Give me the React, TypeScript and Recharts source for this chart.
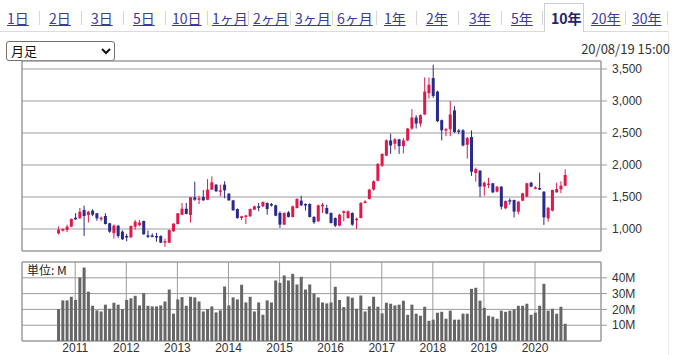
import React from 'react';
import { ComposedChart, Bar, XAxis, YAxis, CartesianGrid, ReferenceArea } from 'recharts';

// monthly candles, Sep 2010 .. Aug 2020
const openPrices = [
  930, 975, 985, 1036, 1176, 1167, 1297, 1219, 1286, 1245,
  1160, 1203, 1089, 933, 1052, 958, 890, 870, 1036, 1060,
  1125, 900, 900, 890, 891, 790, 786, 963, 1078, 1222,
  1317, 1219, 1495, 1458, 1500, 1458, 1615, 1693, 1589, 1693,
  1552, 1448, 1312, 1172, 1198, 1198, 1302, 1354, 1354, 1406,
  1390, 1370, 1250, 1068, 1260, 1188, 1328, 1443, 1391, 1391,
  1188, 1120, 1354, 1328, 1250, 1172, 1052, 1250, 1172, 1250,
  1140, 1172, 1406, 1469, 1615, 1753, 1990, 2147, 2384, 2332,
  2400, 2295, 2384, 2568, 2742, 2647, 2789, 3121, 3358, 3147,
  2700, 2540, 2558, 2853, 2540, 2542, 2316, 2437, 1874, 1911,
  1663, 1690, 1714, 1583, 1661, 1323, 1450, 1453, 1271, 1443,
  1505, 1724, 1640, 1640, 1583, 1167, 1286, 1573, 1620, 1677,
];
const highPrices = [
  1040, 1010, 1066, 1165, 1248, 1328, 1364, 1280, 1310, 1250,
  1195, 1245, 1095, 1070, 1060, 980, 925, 1055, 1140, 1140,
  1130, 975, 930, 940, 900, 850, 990, 1090, 1250, 1406,
  1406, 1500, 1739, 1520, 1610, 1780, 1823, 1700, 1693, 1745,
  1560, 1455, 1320, 1208, 1215, 1320, 1365, 1406, 1430, 1415,
  1406, 1380, 1276, 1260, 1280, 1365, 1480, 1520, 1400, 1400,
  1200, 1380, 1406, 1380, 1260, 1180, 1240, 1290, 1290, 1260,
  1180, 1420, 1450, 1630, 1760, 2030, 2180, 2400, 2490, 2420,
  2410, 2420, 2580, 2874, 2779, 2790, 3368, 3368, 3568, 3160,
  2710, 2580, 3000, 2920, 2560, 2560, 2440, 2540, 1960, 1920,
  1740, 1800, 1720, 1670, 1670, 1445, 1480, 1460, 1435, 1565,
  1722, 1735, 1670, 1880, 1590, 1340, 1615, 1724, 1745, 1932,
];
const lowPrices = [
  915, 960, 950, 1030, 1145, 1160, 890, 1100, 1200, 1130,
  1120, 1070, 940, 850, 860, 830, 807, 860, 990, 1040,
  910, 860, 870, 800, 780, 723, 780, 960, 1070, 1215,
  1230, 1100, 1440, 1390, 1440, 1450, 1610, 1580, 1510, 1480,
  1440, 1285, 1160, 1140, 1078, 1190, 1295, 1276, 1340, 1224,
  1350, 1200, 1016, 1060, 1180, 1180, 1320, 1360, 1290, 1180,
  1080, 1110, 1250, 1230, 1085, 1030, 1040, 1120, 1160, 1050,
  1000, 1165, 1400, 1460, 1600, 1745, 1970, 2140, 2174, 2240,
  2174, 2180, 2370, 2550, 2570, 2600, 2780, 3040, 3050, 2670,
  2384, 2450, 2450, 2500, 2480, 2290, 2100, 1830, 1740, 1500,
  1520, 1640, 1560, 1570, 1305, 1310, 1380, 1180, 1230, 1435,
  1495, 1650, 1620, 1610, 1063, 1115, 1275, 1565, 1560, 1670,
];
const closePrices = [
  990, 1000, 1036, 1156, 1150, 1270, 1203, 1270, 1224, 1167,
  1176, 1078, 958, 1052, 891, 839, 870, 1047, 1114, 1100,
  917, 890, 895, 870, 786, 810, 984, 1083, 1245, 1317,
  1235, 1495, 1458, 1480, 1448, 1615, 1729, 1589, 1604, 1604,
  1448, 1292, 1172, 1198, 1212, 1312, 1354, 1340, 1422, 1312,
  1370, 1208, 1068, 1250, 1188, 1354, 1469, 1370, 1380, 1188,
  1104, 1370, 1380, 1240, 1094, 1052, 1224, 1276, 1276, 1068,
  1160, 1406, 1430, 1615, 1745, 2016, 2174, 2384, 2305, 2400,
  2295, 2384, 2568, 2742, 2647, 2779, 3147, 3253, 3079, 2684,
  2542, 2560, 2789, 2516, 2520, 2305, 2421, 1895, 1937, 1663,
  1724, 1710, 1573, 1661, 1349, 1437, 1430, 1271, 1427, 1557,
  1714, 1661, 1650, 1620, 1182, 1333, 1609, 1625, 1677, 1844,
];
// volume in millions
const volumes = [
  20.2, 25.7, 25.7, 28, 26, 40.2, 46.5, 31.2, 22.3, 19.4,
  18.7, 23, 20.4, 24.2, 23, 20.2, 26, 27, 28.6, 22.5,
  30.3, 22.3, 21.9, 21.9, 22.5, 25, 32.6, 17.3, 26.3, 27.8,
  22.3, 28, 27.6, 25, 18.7, 20.2, 21.9, 18.1, 19.4, 34.5,
  22.5, 27.6, 26.3, 35.6, 24.4, 28, 18.7, 24.4, 16.6, 25.7,
  24.4, 38.3, 36.8, 41.5, 38.3, 42.5, 35.8, 40.6, 32.6, 35.8,
  30.1, 27.6, 24.4, 23.8, 24.4, 34.3, 26, 21.5, 28.2, 27.4,
  20.4, 28.8, 18.7, 21.9, 28, 21.7, 17.5, 24.2, 23.6, 22.5,
  23, 25.5, 16.6, 23, 17.3, 16, 21.7, 12.8, 13.5, 17.9,
  18.5, 14.1, 19.2, 13.5, 13.5, 17.3, 17.3, 33, 33.7, 25.5,
  21, 16, 15.4, 14.1, 19.2, 18.5, 19.2, 20, 22.3, 22.3,
  23.6, 16.6, 17.9, 22.3, 36.2, 19.2, 20.4, 17.3, 21.7, 10.9,
];

const yearLabels = ['2011', '2012', '2013', '2014', '2015', '2016', '2017', '2018', '2019', '2020'];
const priceTicks = [1000, 1500, 2000, 2500, 3000, 3500];
const volumeTicks = [10, 20, 30, 40];

const tabLabels = ['1日', '2日', '3日', '5日', '10日', '1ヶ月', '2ヶ月', '3ヶ月', '6ヶ月', '1年', '2年', '3年', '5年', '10年', '20年', '30年'];
const activeTab = '10年';

// first candle is Sep 2010, so January of each year sits at index 12*k + 4
const yearTicks = yearLabels.map((_, k) => 4 + 12 * k);

const data = openPrices.map((o, i) => ({
  i,
  open: o,
  high: highPrices[i],
  low: lowPrices[i],
  close: closePrices[i],
  range: [lowPrices[i], highPrices[i]],
  volume: volumes[i],
}));

const RED = '#e2174b';
const BLUE = '#2a2a8c';
const GRID = '#9c9c9c';
const FONT = '"Noto Sans CJK JP", "Noto Sans", sans-serif';
const TICK_FONT = '"Liberation Sans", Arial, sans-serif';
const X_DOMAIN: [number, number] = [-8.5, 127.5];
const PRICE_DOMAIN: [number, number] = [656, 3625];
const VOL_DOMAIN: [number, number] = [0, 50];

const Candle = (props: any) => {
  const { x, y, width, height, payload } = props;
  const { open, close, high, low } = payload;
  const color = close >= open ? RED : BLUE;
  const top = Math.min(y, y + height);
  const h = Math.abs(height);
  const span = high - low || 1;
  const toPx = (v: number) => top + ((high - v) / span) * h;
  const bodyTop = toPx(Math.max(open, close));
  const bodyBot = toPx(Math.min(open, close));
  const cx = x + width / 2;
  return (
    <g>
      <line x1={cx} x2={cx} y1={top} y2={top + h} stroke={color} strokeWidth={1} />
      <rect x={x} y={bodyTop} width={width} height={Math.max(1.5, bodyBot - bodyTop)} fill={color} />
    </g>
  );
};

// tab layout (pixel positions of the header row)
const tabLefts = [7, 49, 91, 133, 172, 212, 253, 295, 337, 384, 426, 469, 511, 551, 591, 632];
const sepLefts = [39, 81, 123, 165, 207, 248, 290, 332, 376, 416, 458, 501, 542, 625, 667];

const Header = () => (
  <>
    <div style={{ position: 'absolute', left: 0, top: 31, width: 668, height: 1, background: '#dcdcdc' }} />
    <div style={{ position: 'absolute', left: 668, top: 31, width: 1, height: 324, background: '#ececec' }} />
    <div
      style={{
        position: 'absolute', left: 544, top: 3, width: 40, height: 29, boxSizing: 'border-box',
        border: '1px solid #cfcfcf', borderBottom: 'none', background: '#fff',
      }}
    />
    {sepLefts.map((l) => (
      <div key={l} style={{ position: 'absolute', left: l, top: 11, width: 1, height: 14, background: '#d6d6d6' }} />
    ))}
    {tabLabels.map((t, k) => {
      const active = t === activeTab;
      return (
        <div
          key={t}
          style={{
            position: 'absolute', left: tabLefts[k], top: 8, fontSize: 14, lineHeight: '20px',
            color: active ? '#23236a' : '#3a3aa0', fontWeight: active ? 700 : 400,
            textDecoration: active ? 'none' : 'underline', whiteSpace: 'nowrap',
          }}
        >
          {t}
        </div>
      );
    })}
    <div
      style={{
        position: 'absolute', left: 6, top: 41, width: 109, height: 20, boxSizing: 'border-box',
        border: '1px solid #707070', borderRadius: 3, background: '#fff',
      }}
    >
      <span style={{ position: 'absolute', left: 4, top: 0, fontSize: 13, lineHeight: '18px', color: '#111' }}>月足</span>
      <svg style={{ position: 'absolute', left: 94, top: 6 }} width={10} height={7}>
        <polyline points="1,1 5,5 9,1" fill="none" stroke="#111" strokeWidth={2} />
      </svg>
    </div>
    <div style={{ position: 'absolute', right: 9, top: 39, fontSize: 13, lineHeight: '20px', color: '#333' }}>
      20/08/19 15:00
    </div>
  </>
);

export default function App() {
  return (
    <div
      style={{
        position: 'absolute', left: 0, top: 0, width: 679, height: 355, background: '#fff',
        overflow: 'hidden', fontFamily: FONT,
      }}
    >
      <Header />

      <div style={{ position: 'absolute', left: 0, top: 0, fontFamily: TICK_FONT }}>
        <ComposedChart width={679} height={260} data={data} margin={{ top: 61, right: 0, left: 22, bottom: 9 }}>
          <CartesianGrid stroke={GRID} />
          <XAxis
            dataKey="i"
            type="number"
            domain={X_DOMAIN}
            allowDataOverflow
            ticks={yearTicks}
            height={0}
            tick={false}
            axisLine={false}
            tickLine={false}
          />
          <YAxis
            orientation="right"
            domain={PRICE_DOMAIN}
            allowDataOverflow
            ticks={priceTicks}
            interval={0}
            width={78}
            axisLine={false}
            tickLine={{ stroke: GRID }}
            tickSize={6}
            tickMargin={5}
            tick={{ fill: '#333', fontSize: 12, textAnchor: 'start' }}
            tickFormatter={(v: number) => v.toLocaleString('en-US')}
          />
          <ReferenceArea
            x1={X_DOMAIN[0]}
            x2={X_DOMAIN[1]}
            y1={PRICE_DOMAIN[0]}
            y2={PRICE_DOMAIN[1]}
            fill="none"
            fillOpacity={0}
            stroke={GRID}
            strokeOpacity={1}
          />
          <Bar dataKey="range" barSize={3} shape={<Candle />} isAnimationActive={false} />
        </ComposedChart>
      </div>

      <div style={{ position: 'absolute', left: 0, top: 250, fontFamily: TICK_FONT }}>
        <ComposedChart width={679} height={105} data={data} margin={{ top: 12, right: 0, left: 22, bottom: 0 }}>
          <CartesianGrid stroke={GRID} />
          <XAxis
            dataKey="i"
            type="number"
            domain={X_DOMAIN}
            allowDataOverflow
            ticks={yearTicks}
            interval={0}
            height={14}
            axisLine={false}
            tickLine={false}
            tickSize={0}
            tickMargin={2}
            tick={{ fill: '#333', fontSize: 12 }}
            tickFormatter={(v: number) => yearLabels[yearTicks.indexOf(v)] ?? ''}
          />
          <YAxis
            orientation="right"
            domain={VOL_DOMAIN}
            allowDataOverflow
            ticks={volumeTicks}
            interval={0}
            width={78}
            axisLine={false}
            tickLine={{ stroke: GRID }}
            tickSize={6}
            tickMargin={5}
            tick={{ fill: '#333', fontSize: 12, textAnchor: 'start' }}
            tickFormatter={(v: number) => `${v}M`}
          />
          <ReferenceArea
            x1={X_DOMAIN[0]}
            x2={X_DOMAIN[1]}
            y1={VOL_DOMAIN[0]}
            y2={VOL_DOMAIN[1]}
            fill="none"
            fillOpacity={0}
            stroke={GRID}
            strokeOpacity={1}
          />
          <Bar dataKey="volume" barSize={3} fill="#666666" isAnimationActive={false} />
        </ComposedChart>
      </div>

      <div style={{ position: 'absolute', left: 27, top: 262, fontSize: 12, lineHeight: '16px', color: '#222' }}>
        単位: M
      </div>
    </div>
  );
}
